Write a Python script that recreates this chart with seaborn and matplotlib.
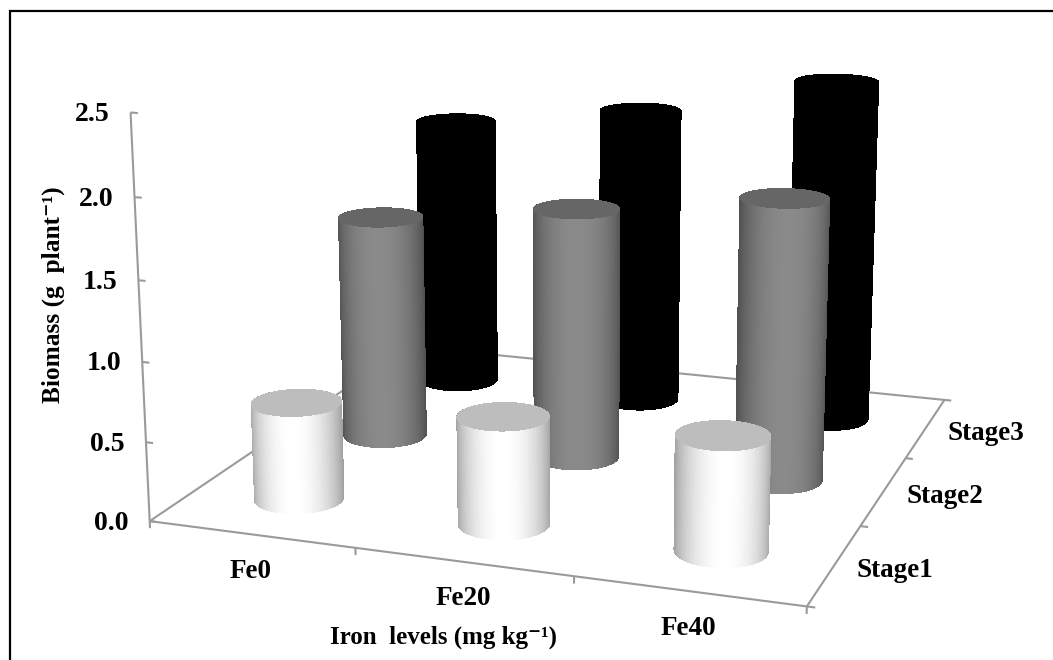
import numpy as np
import matplotlib
matplotlib.use("Agg")
import matplotlib.pyplot as plt
from matplotlib.patches import Rectangle
from mpl_toolkits.mplot3d import proj3d
import seaborn as sns

# Biomass per iron level and growth stage
iron_levels = ["Fe0", "Fe20", "Fe40"]
stages = ["Stage1", "Stage2", "Stage3"]
stage1_biomass = [0.62, 0.675, 0.705]
stage2_biomass = [1.49, 1.65, 1.82]
stage3_biomass = [1.885, 2.045, 2.325]
biomass_ticks = [0.0, 0.5, 1.0, 1.5, 2.0, 2.5]

sns.set_theme(style="white")
plt.rcParams["font.family"] = ["Liberation Serif", "DejaVu Serif"]
plt.rcParams["font.weight"] = "bold"

W, H = 1053, 660
fig = plt.figure(figsize=(W / 100, H / 100), dpi=100, facecolor="white")

# Square 3D viewport, deliberately larger than the figure
side = 945
cx_px, cy_px = 576.5, 270
left = cx_px - 0.5135 * side
bottom = H - cy_px - 0.5135 * side
ax = fig.add_axes([left / W, bottom / H, side / W, side / H],
                   projection="3d", computed_zorder=False)
ax.set_proj_type("persp", focal_length=0.475)
ax.view_init(elev=14.5, azim=-70.8)
ax.set_box_aspect((731, 715, 450))
ax.set_xlim(0, 3)
ax.set_ylim(0, 3)
ax.set_zlim(0, 2.5)
ax.set_axis_off()
ax.patch.set_alpha(0)

AXIS_GREY = "#9a9a9a"


def axis_line(xs, ys, zs):
    ax.plot(xs, ys, zs, color=AXIS_GREY, lw=1.5, zorder=1, solid_capstyle="butt")


# Floor outline and tick marks
axis_line([0, 3, 3, 0, 0], [0, 0, 3, 3, 0], [0, 0, 0, 0, 0])
axis_line([0, 0], [0, 0], [0, biomass_ticks[-1]])
for t in biomass_ticks:
    axis_line([0, 0.035], [0, 0], [t, t])
for i in range(len(iron_levels) + 1):
    axis_line([i, i], [0, 0], [0, -0.045])
for i in range(len(stages) + 1):
    axis_line([3, 3.035], [i, i], [0, 0])


def cylinder(cx, cy, height, edge, centre, top, order, power):
    """Draw one shaded cylinder standing on the floor."""
    rx, ry = 0.203, 0.207
    theta = np.linspace(0, 2 * np.pi, 289)
    zz = np.array([0.0, height])
    T, Z = np.meshgrid(theta, zz)
    X = cx + rx * np.cos(T)
    Y = cy + ry * np.sin(T)
    cmap = sns.blend_palette([edge, centre], as_cmap=True)
    # Brightest on the side facing the viewer, darkening towards the silhouette
    facing = np.clip(np.cos(T - np.deg2rad(-71)), 0, 1) ** power
    colours = cmap(facing)
    ax.plot_surface(X, Y, Z, facecolors=colours, rcount=2, ccount=289,
                    shade=False, linewidth=0, antialiased=False, zorder=order)
    R, T2 = np.meshgrid(np.array([0.0, 1.0]), theta)
    ax.plot_surface(cx + rx * R * np.cos(T2), cy + ry * R * np.sin(T2),
                    np.full_like(R, height), color=top, rcount=2, ccount=289,
                    shade=False, linewidth=0, antialiased=False, zorder=order + 0.5)


series = [
    (stage3_biomass, 2, "#000000", "#000000", "#000000", 1.0),
    (stage2_biomass, 1, "#505050", "#8a8a8a", "#666666", 1.5),
    (stage1_biomass, 0, "#a0a0a0", "#ffffff", "#bdbdbd", 1.5),
]
for n, (values, row, edge, centre, top, power) in enumerate(series):
    for col, value in enumerate(values):
        cylinder(col + 0.5, row + 0.5, value, edge, centre, top, 5 + n, power)

# Text placement works from the projected position of each data location
M = ax.get_proj()


def label(x, y, z, text, dx, dy, ha="center", va="center", size=19.5):
    px, py, _ = proj3d.proj_transform(x, y, z, M)
    ax.annotate(text, xy=(px, py), xycoords="data", xytext=(dx, dy),
                textcoords="offset pixels", ha=ha, va=va, fontsize=size,
                fontweight="bold", color="black", annotation_clip=False)


for t in biomass_ticks:
    label(0, 0, t, f"{t:.1f}", -21, -2, ha="right", size=20)
for i, name in enumerate(iron_levels):
    label(i + 0.5, 0, 0, name, 0, -37)
for i, name in enumerate(stages):
    label(3, i + 0.5, 0, name, 60.5, -5.5)

fig.text(443 / W, 1 - 637 / H, "Iron  levels (mg kg\u207b\u00b9)", ha="center", va="center",
         fontsize=18, fontweight="bold", color="black")
fig.text(53 / W, 1 - 295 / H, "Biomass (g  plant\u207b\u00b9)", rotation=90, ha="center",
         va="center", fontsize=18.3, fontweight="bold", color="black")

# Frame along the top and left, running off the canvas on the other two sides
fig.add_artist(Rectangle((9.5 / W, -0.1), 1.2, 1.1 - 11 / H,
                         transform=fig.transFigure, fill=False, edgecolor="black", lw=1.6))

fig.savefig("out.png", dpi=100)
